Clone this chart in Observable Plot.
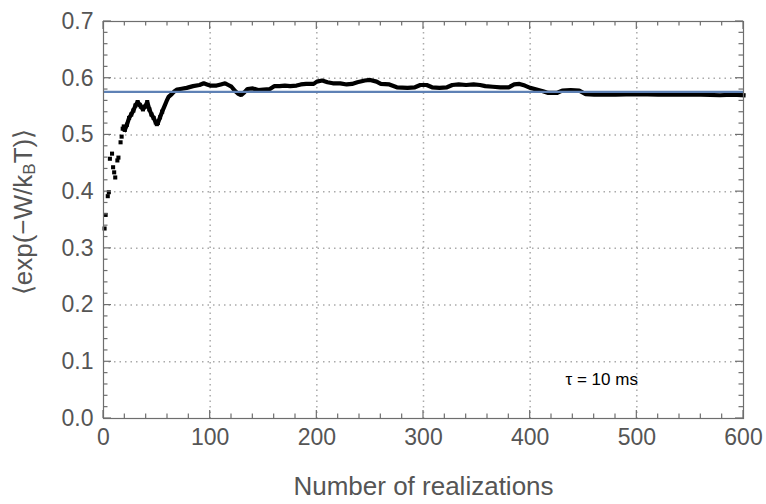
<!DOCTYPE html>
<html>
<head>
<meta charset="utf-8">
<script src="https://cdn.jsdelivr.net/npm/d3@7"></script>
<script src="https://cdn.jsdelivr.net/npm/@observablehq/plot@0.6"></script>
<style>
  html, body { margin: 0; padding: 0; background: #fff; }
  #chart { width: 766px; height: 504px; }
</style>
</head>
<body>
<div id="chart"></div>
<script>
// Running average of exp(-W/kBT) versus number of realizations.
// First few realizations: scattered individual averages.
const earlyN   = [1, 2, 4, 5, 6, 8, 9, 10, 11, 13, 14, 16, 17, 18, 19];
const earlyAvg = [0.335, 0.359, 0.392, 0.399, 0.458, 0.467, 0.443, 0.434, 0.425, 0.455, 0.460, 0.487, 0.497, 0.511, 0.515];

// Later realizations: the running average settles into a continuous band.
const runN = [20, 22, 24, 26, 28, 30, 32, 34, 35, 37, 39, 41, 43, 45, 47, 49, 50, 51, 53, 55,
  57, 59, 61, 64, 66, 69, 72, 78, 84, 90, 94, 97, 100, 106, 110, 114, 117, 120, 123, 126,
  129, 132, 135, 140, 145, 150, 156, 160, 165, 170, 175, 181, 185, 190, 197, 200, 205, 210, 215, 222,
  228, 233, 238, 245, 250, 256, 260, 268, 275, 285, 292, 297, 303, 308, 315, 322, 327, 333, 340, 347,
  353, 358, 365, 372, 380, 385, 390, 395, 400, 406, 412, 417, 425, 430, 438, 446, 452, 460, 480, 500,
  520, 540, 560, 578, 590, 600];
const runAvg = [0.509, 0.518, 0.530, 0.536, 0.543, 0.552, 0.558, 0.553, 0.550, 0.545, 0.550, 0.558, 0.545, 0.536, 0.530, 0.522, 0.519, 0.521, 0.531, 0.541,
  0.550, 0.559, 0.567, 0.572, 0.576, 0.580, 0.581, 0.583, 0.586, 0.588, 0.591, 0.589, 0.587, 0.587, 0.589, 0.591, 0.588, 0.585, 0.578, 0.573,
  0.570, 0.575, 0.581, 0.582, 0.579, 0.580, 0.581, 0.586, 0.586, 0.587, 0.586, 0.587, 0.589, 0.590, 0.590, 0.594, 0.596, 0.593, 0.591, 0.591,
  0.589, 0.590, 0.593, 0.596, 0.597, 0.594, 0.590, 0.589, 0.584, 0.583, 0.584, 0.588, 0.588, 0.584, 0.583, 0.584, 0.588, 0.589, 0.588, 0.589,
  0.588, 0.586, 0.585, 0.584, 0.584, 0.589, 0.590, 0.587, 0.583, 0.580, 0.577, 0.574, 0.574, 0.578, 0.579, 0.578, 0.572, 0.571, 0.571, 0.572,
  0.571, 0.571, 0.571, 0.570, 0.571, 0.570];

// Expected value (horizontal reference line).
const expectedValue = 0.576;

// Axis ticks and grid positions.
const xMajor = [0, 100, 200, 300, 400, 500, 600];
const yMajor = [0, 0.1, 0.2, 0.3, 0.4, 0.5, 0.6, 0.7];
const xMinor = d3.range(0, 601, 20).filter(v => v % 100 !== 0);
const yMinor = d3.range(0, 36).map(i => i * 0.02).filter((v, i) => i % 5 !== 0);
const gridX = [100, 200, 300, 400, 500];
const gridY = [0.1, 0.2, 0.3, 0.4, 0.5, 0.6];

const xTitle = "Number of realizations";
const tauLabel = "τ = 10 ms";

const early = earlyN.map((n, i) => ({n, avg: earlyAvg[i]}));
const run = runN.map((n, i) => ({n, avg: runAvg[i]}));

const W = 766, H = 504;
const margin = {top: 21, right: 23, bottom: 86, left: 103};

const frameColor = "#6e6e6e";
const labelColor = "#555";
const tickFont = 23;

const chart = Plot.plot({
  width: W,
  height: H,
  marginLeft: margin.left,
  marginRight: margin.right,
  marginTop: margin.top,
  marginBottom: margin.bottom,
  style: {fontFamily: "'Liberation Sans', Arial, sans-serif", fontSize: tickFont + "px", background: "#fff"},
  x: {domain: [0, 600], axis: null},
  y: {domain: [0, 0.7], axis: null},
  marks: [
    // dotted grid
    Plot.ruleX(gridX, {stroke: "#aaaaaa", strokeWidth: 1.5, strokeDasharray: "1.5,4"}),
    Plot.ruleY(gridY, {stroke: "#aaaaaa", strokeWidth: 1.5, strokeDasharray: "1.5,4"}),
    // tick labels
    Plot.axisX({ticks: xMajor, tickSize: 0, tickPadding: 10, fontSize: tickFont, fill: labelColor, label: null}),
    Plot.axisY({ticks: yMajor, tickSize: 0, tickPadding: 10, tickFormat: ".1f", fontSize: tickFont, fill: labelColor, label: null}),
    // running average
    Plot.line(run, {x: "n", y: "avg", stroke: "black", strokeWidth: 4.2, strokeLinejoin: "miter", strokeLinecap: "square"}),
    Plot.dot(early, {x: "n", y: "avg", symbol: "square", r: 2.3, fill: "black", stroke: "none"}),
    Plot.dot(run.slice(0, 20), {x: "n", y: "avg", symbol: "square", r: 2.3, fill: "black", stroke: "none"}),
    // expected value
    Plot.ruleY([expectedValue], {stroke: "#5E81B5", strokeWidth: 2.2}),
    // annotation
    Plot.text([tauLabel], {frameAnchor: "bottom-right", dx: -178, dy: -34, textAnchor: "start", fontSize: 17, fontWeight: 500, fill: "black"}),
    // x title
    Plot.text([xTitle], {frameAnchor: "bottom", dy: 76, fontSize: 26, fill: labelColor}),
    Plot.frame({stroke: frameColor, strokeWidth: 1.2})
  ]
});

document.getElementById("chart").appendChild(chart);

const svg = d3.select(chart);

// Inward ticks on all four frame edges, placed with the plot's own scales.
{
  const sx = chart.scale("x"), sy = chart.scale("y");
  const fLeft = margin.left, fRight = W - margin.right, fTop = margin.top, fBottom = H - margin.bottom;
  const ticksG = svg.append("g").attr("stroke", frameColor).attr("stroke-width", 1.2);
  const drawTicks = (xs, ys, len) => {
    for (const v of xs) {
      const px = sx.apply(v);
      ticksG.append("line").attr("x1", px).attr("x2", px).attr("y1", fBottom).attr("y2", fBottom - len);
      ticksG.append("line").attr("x1", px).attr("x2", px).attr("y1", fTop).attr("y2", fTop + len);
    }
    for (const v of ys) {
      const py = sy.apply(v);
      ticksG.append("line").attr("y1", py).attr("y2", py).attr("x1", fLeft).attr("x2", fLeft + len);
      ticksG.append("line").attr("y1", py).attr("y2", py).attr("x1", fRight).attr("x2", fRight - len);
    }
  };
  drawTicks(xMajor, yMajor, 8);
  drawTicks(xMinor, yMinor, 4.5);
}

// y title with subscript B
const yTitle = svg.append("text")
  .attr("transform", "translate(25,212) rotate(-90)")
  .attr("text-anchor", "middle")
  .attr("dominant-baseline", "middle")
  .attr("fill", labelColor)
  .attr("font-size", 26);
yTitle.append("tspan").text("⟨exp(−W/k");
yTitle.append("tspan").attr("font-size", 17).attr("dy", 6).text("B");
yTitle.append("tspan").attr("dy", -6).text("T)⟩");
</script>
</body>
</html>
